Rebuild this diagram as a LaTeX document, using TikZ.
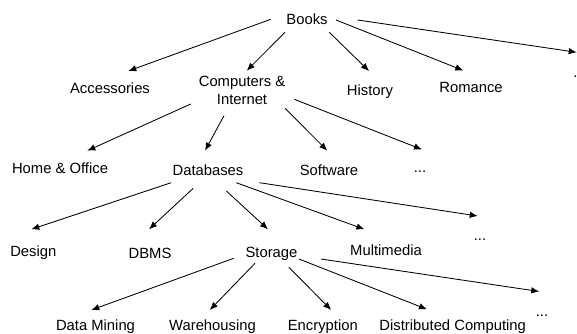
\documentclass[tikz,border=0pt]{standalone}
\usepackage{fontspec}
\setmainfont{Liberation Sans}
\usetikzlibrary{arrows.meta,calc}
\begin{document}
\begin{tikzpicture}[x=1pt,y=-1pt,
  lbl/.style={inner sep=0pt,text height=10.6pt,text depth=0pt,font=\fontsize{14.8}{18}\selectfont},
  lbl2/.style={inner sep=0pt,align=center,font=\fontsize{14.8}{18}\selectfont},
  arr/.style={line width=0.85pt,-{Latex[length=8pt,width=6.5pt]}}]
\useasboundingbox (0,0) rectangle (577,333);
% level 0
\node[lbl] (books) at (307,19) {Books};
% level 1
\node[lbl] (acc) at (110,88.3) {Accessories};
\node[lbl2] (comp) at (242,90) {Computers \&\\Internet};
\node[lbl] (hist) at (370,90) {History};
\node[lbl] (rom) at (471,87.3) {Romance};
\node[lbl] (dot1) at (575.5,72.4) {.};
% level 2
\node[lbl] (home) at (60,168.3) {Home \& Office};
\node[lbl] (db) at (208,170) {Databases};
\node[lbl] (soft) at (329,170) {Software};
\node[lbl] (dots2) at (420,167.2) {...};
% level 3
\node[lbl] (design) at (33.3,251) {Design};
\node[lbl] (dbms) at (150,253.3) {DBMS};
\node[lbl] (stor) at (271.5,252.5) {Storage};
\node[lbl] (mm) at (386,250) {Multimedia};
\node[lbl] (dots3) at (480,235.5) {...};
% level 4
\node[lbl] (dm) at (95.5,325.5) {Data Mining};
\node[lbl] (wh) at (212.5,325.5) {Warehousing};
\node[lbl] (enc) at (322.8,325.5) {Encryption};
\node[lbl] (dc) at (452.7,325.5) {Distributed Computing};
\node[lbl] (dots4) at (542,311.5) {...};
% connectors
\draw[arr] ($(books)+(-36.3,0.3)$) -- ($(acc)+(18.3,-17.3)$);
\draw[arr] ($(books)+(-22,13.3)$) -- ($(comp)+(4.7,-19.3)$);
\draw[arr] ($(books)+(22.3,13.3)$) -- ($(hist)+(-1,-19)$);
\draw[arr] ($(books)+(29,1)$) -- ($(rom)+(-7.7,-16.8)$);
\draw[arr] ($(books)+(50.7,1)$) -- ($(dot1)+(1.2,-20.1)$);
\draw[arr] ($(comp)+(-51.3,14)$) -- ($(home)+(27.3,-17.6)$);
\draw[arr] ($(comp)+(-18,25.7)$) -- ($(db)+(-3,-19.3)$);
\draw[arr] ($(comp)+(43,18.3)$) -- ($(soft)+(-1.7,-19.3)$);
\draw[arr] ($(comp)+(52.3,9.3)$) -- ($(dots2)+(2,-17.7)$);
\draw[arr] ($(db)+(-36.9,12.7)$) -- ($(design)+(-2,-21.7)$);
\draw[arr] ($(db)+(-14.8,18.3)$) -- ($(dbms)+(-1,-24)$);
\draw[arr] ($(db)+(18.4,21)$) -- ($(stor)+(-3.5,-23.2)$);
\draw[arr] ($(db)+(28.3,12.7)$) -- ($(mm)+(-21.6,-20.7)$);
\draw[arr] ($(db)+(51.5,12.7)$) -- ($(dots3)+(-2.3,-19.5)$);
\draw[arr] ($(stor)+(-37.8,5.8)$) -- ($(dm)+(-4.2,-15.5)$);
\draw[arr] ($(stor)+(-16.5,10.8)$) -- ($(wh)+(-2.7,-15.5)$);
\draw[arr] ($(stor)+(17.4,14.8)$) -- ($(enc)+(8.4,-15.5)$);
\draw[arr] ($(stor)+(27.4,6.5)$) -- ($(dc)+(-25.7,-16.2)$);
\draw[arr] ($(stor)+(49.5,6.5)$) -- ($(dots4)+(-2.8,-20)$);
\end{tikzpicture}
\end{document}
